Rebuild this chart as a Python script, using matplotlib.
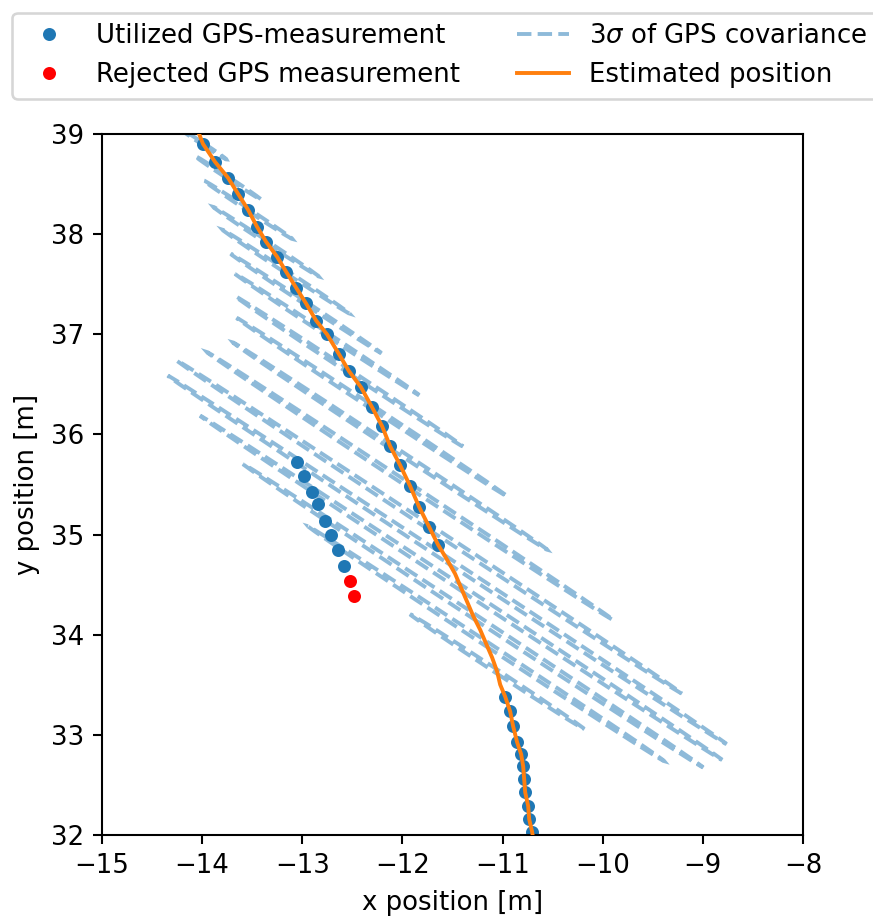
import matplotlib
matplotlib.use('Agg')
import matplotlib.pyplot as plt
from matplotlib.lines import Line2D
from matplotlib.patches import Ellipse

# GPS measurements that were used by the filter
used_x = [-13.991, -13.871, -13.741, -13.641, -13.541, -13.452, -13.362, -13.252,
          -13.162, -13.062, -12.962, -12.862, -12.752, -12.632, -12.532, -12.413,
          -12.303, -12.203, -12.123, -12.023, -11.923, -11.833, -11.733, -11.643,
          -13.052, -12.982, -12.902, -12.842, -12.772, -12.712, -12.642, -12.582,
          -10.974, -10.924, -10.894, -10.854, -10.814, -10.794, -10.784, -10.774,
          -10.744, -10.734, -10.704]
used_y = [38.900, 38.721, 38.562, 38.402, 38.243, 38.074, 37.924, 37.775,
          37.625, 37.466, 37.307, 37.137, 36.998, 36.799, 36.629, 36.470,
          36.271, 36.082, 35.883, 35.693, 35.484, 35.275, 35.076, 34.896,
          35.723, 35.584, 35.424, 35.305, 35.135, 34.996, 34.847, 34.687,
          33.382, 33.233, 33.084, 32.924, 32.805, 32.685, 32.556, 32.426,
          32.287, 32.157, 32.028]

# rejected GPS measurements
rejected_x = [-12.522, -12.483]
rejected_y = [34.538, 34.388]

# estimated trajectory
est_x = [-14.030, -13.991, -13.871, -13.741, -13.641, -13.541, -13.452, -13.362,
         -13.252, -13.162, -13.062, -12.962, -12.862, -12.752, -12.632, -12.532,
         -12.413, -12.303, -12.203, -12.123, -12.023, -11.923, -11.833, -11.733,
         -11.643, -11.553, -11.474, -11.414, -11.354, -11.294, -11.224, -11.164,
         -11.104, -11.054, -11.024, -10.974, -10.924, -10.894, -10.854, -10.814,
         -10.794, -10.784, -10.774, -10.744, -10.734, -10.704, -10.700]
est_y = [39.000, 38.900, 38.721, 38.562, 38.402, 38.243, 38.074, 37.924,
         37.775, 37.625, 37.466, 37.307, 37.137, 36.998, 36.799, 36.629,
         36.470, 36.271, 36.082, 35.883, 35.693, 35.484, 35.275, 35.076,
         34.896, 34.747, 34.608, 34.468, 34.329, 34.189, 34.050, 33.910,
         33.771, 33.631, 33.502, 33.382, 33.233, 33.084, 32.924, 32.805,
         32.685, 32.556, 32.426, 32.287, 32.157, 32.028, 32.000]

# 3 sigma GPS covariance ellipses, drawn at every second estimate
cov_index = [1, 3, 5, 7, 9, 11, 13, 15, 17, 19, 21, 23, 25, 27, 29, 31, 33]
cov_semi_major = [0.28, 0.40, 0.53, 0.63, 0.76, 0.90, 1.10, 1.36, 1.62, 1.88,
                  2.43, 3.02, 3.34, 3.12, 2.75, 2.13, 1.04]
cov_semi_minor = [0.010, 0.011, 0.012, 0.013, 0.014, 0.015, 0.016, 0.018, 0.019,
                  0.020, 0.022, 0.024, 0.025, 0.025, 0.024, 0.022, 0.018]
COV_ANGLE = -33.4

DPI = 187
fig = plt.figure(figsize=(4.6685, 4.9306), dpi=DPI)
ax = fig.add_axes([0.1168, 0.0933, 0.803, 0.7625])

for k, a, b in zip(cov_index, cov_semi_major, cov_semi_minor):
    ell = Ellipse((est_x[k], est_y[k]), 2 * a, 2 * b, angle=COV_ANGLE,
                  fill=False, edgecolor='C0', alpha=0.5, linestyle='--',
                  linewidth=1.5, zorder=1)
    ax.add_patch(ell)

h_used, = ax.plot(used_x, used_y, 'o', color='C0', markersize=4, zorder=2,
                  label='Utilized GPS-measurement')
h_rej, = ax.plot(rejected_x, rejected_y, 'o', color='red', markersize=4,
                 zorder=2, label='Rejected GPS measurement')
h_est, = ax.plot(est_x, est_y, '-', color='C1', linewidth=1.5, zorder=3,
                 label='Estimated position')
h_cov = Line2D([], [], color='C0', alpha=0.5, linestyle='--', linewidth=1.5,
               label=r'3$\sigma$ of GPS covariance')

ax.set_xlim(-15, -8)
ax.set_ylim(32, 39)
ax.set_aspect('equal')
ax.set_xlabel('x position [m]')
ax.set_ylabel('y position [m]')

ax.legend(handles=[h_used, h_rej, h_cov, h_est], ncol=2, loc='lower center',
          bbox_to_anchor=(0.4895, 1.032), columnspacing=2.2)

fig.savefig('out.png', dpi=DPI)
